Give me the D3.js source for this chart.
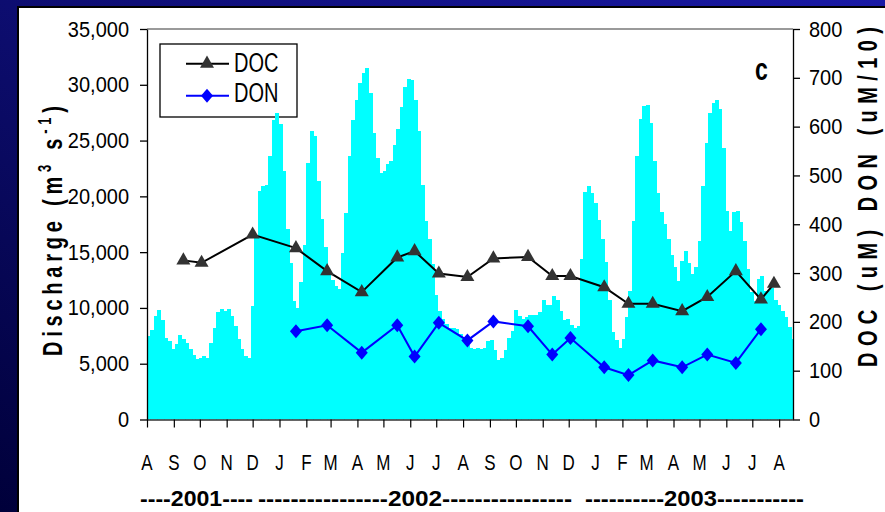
<!DOCTYPE html>
<html>
<head>
<meta charset="utf-8">
<script src="https://d3js.org/d3.v7.min.js"></script>
<style>
  html, body { margin: 0; padding: 0; background: #000050; }
  svg { display: block; font-family: "Liberation Sans", Arial, sans-serif; }
</style>
</head>
<body>
<svg id="chart" width="885" height="512"></svg>
<script>
  // Discharge (m3 s-1), one value every 4 days from 1 Aug 2001
  const dischargeStart = "2001-08-01";
  const dischargeStepDays = 4;
  const discharge = [
    7500, 8000, 9300, 9800, 8900, 7300, 7000, 6300, 6800, 7600,
    7200, 6900, 6300, 5800, 5400, 5500, 5700, 5500, 6900, 8200,
    9600, 9900, 9700, 9900, 9300, 8400, 7200, 6300, 5700, 5500,
    10200, 16500, 20500, 20900, 21000, 23600, 26800, 27500, 26500, 22300,
    17100, 14000, 10600, 10000, 12300, 15600, 23000, 25900, 25400, 21400,
    18000, 15500, 13300, 12500, 12000, 11700, 14900, 18500, 23600, 26800,
    28600, 30200, 31100, 31500, 29300, 25700, 23400, 22100, 22300, 22900,
    23200, 24600, 26000, 28000, 29800, 30500, 30400, 28600, 25900, 21000,
    17800, 16200, 13900, 11200, 9700, 9000, 8600, 8200, 8200, 8100,
    7700, 7200, 6700, 6400, 6300, 6400, 6300, 6400, 7000, 7100,
    6200, 5300, 5500, 6200, 7300, 7900, 9800, 9300, 9000, 9200,
    9400, 9400, 9400, 9600, 10700, 10300, 10300, 11100, 10700, 9700,
    8900, 9000, 8500, 8200, 8400, 14400, 20400, 20900, 20300, 19400,
    17900, 16200, 14100, 10700, 7800, 7100, 6400, 7200, 9200, 11500,
    17800, 23600, 26900, 28100, 28200, 26600, 23200, 20300, 18600, 17500,
    16200, 14700, 13700, 12400, 14200, 15100, 14000, 13000, 13700, 16000,
    20900, 24800, 27500, 28400, 28600, 27800, 24300, 18700, 16900, 18600,
    18700, 17700, 16000, 13500, 11400, 10600, 12600, 12900, 11500, 11500,
    11800, 10700, 10300, 9700, 9200, 8300, 7200
  ];

  // DOC (uM) sampling dates and values
  const docDates = [
    "2001-09-12", "2001-10-03", "2001-12-01", "2002-01-20", "2002-02-25",
    "2002-04-06", "2002-05-17", "2002-06-06", "2002-07-04", "2002-08-06",
    "2002-09-05", "2002-10-15", "2002-11-12", "2002-12-03", "2003-01-11",
    "2003-02-08", "2003-03-08", "2003-04-11", "2003-05-10", "2003-06-12",
    "2003-07-11", "2003-07-26"
  ];
  const docValues = [326, 321, 379, 351, 304, 261, 332, 345, 299, 292,
    330, 333, 294, 294, 271, 237, 237, 222, 251, 304, 246, 278];

  // DON (uM/10)
  const donDates = [
    "2002-01-20", "2002-02-25", "2002-04-06", "2002-05-17", "2002-06-06",
    "2002-07-04", "2002-08-06", "2002-09-05", "2002-10-15", "2002-11-12",
    "2002-12-03", "2003-01-11", "2003-02-08", "2003-03-08", "2003-04-11",
    "2003-05-10", "2003-06-12", "2003-07-11"
  ];
  const donValues = [181, 193, 137, 193, 129, 198, 162, 201, 191, 133,
    167, 107, 91, 121, 107, 133, 116, 185];

  const monthLabels = ["A", "S", "O", "N", "D", "J", "F", "M", "A", "M", "J", "J",
    "A", "S", "O", "N", "D", "J", "F", "M", "A", "M", "J", "J", "A"];
  const leftTicks = [0, 5000, 10000, 15000, 20000, 25000, 30000, 35000];
  const rightTicks = [0, 100, 200, 300, 400, 500, 600, 700, 800];
  const yearLabels = ["----2001----", "----------------2002----------------", "----------2003-----------"];

  const svg = d3.select("#chart");
  const W = 885, H = 512;
  const parse = d3.timeParse("%Y-%m-%d");

  // slide background
  const defs = svg.append("defs");
  const grad = defs.append("linearGradient").attr("id", "bg")
    .attr("x1", 0).attr("y1", 1).attr("x2", 1).attr("y2", 0);
  grad.append("stop").attr("offset", 0).attr("stop-color", "#00003a");
  grad.append("stop").attr("offset", 1).attr("stop-color", "#1a1aa6");
  svg.append("rect").attr("width", W).attr("height", H).attr("fill", "url(#bg)");
  svg.append("rect").attr("x", 18).attr("y", 7).attr("width", W).attr("height", H)
    .attr("fill", "#fff").attr("stroke", "#000").attr("stroke-width", 2);

  const plotL = 147, plotR = 793, plotT = 29, plotB = 419.5;

  const x = d3.scaleTime()
    .domain([parse("2001-08-01"), parse("2003-08-17")])
    .range([plotL, plotR]);
  const yQ = d3.scaleLinear().domain([0, 35000]).range([plotB, plotT]);
  const yC = d3.scaleLinear().domain([0, 800]).range([plotB, plotT]);

  defs.append("clipPath").attr("id", "plot")
    .append("rect").attr("x", plotL).attr("y", plotT)
    .attr("width", plotR - plotL).attr("height", plotB - plotT);

  const triangle = d3.symbol(d3.symbolTriangle, 85)();
  const diamond = "M0,-7L6,0L0,7L-6,0Z";

  // legend (drawn first, the discharge peak sits over it)
  const lg = svg.append("g");
  lg.append("rect").attr("x", 160).attr("y", 44).attr("width", 137).attr("height", 73)
    .attr("fill", "#fff").attr("stroke", "#000").attr("stroke-width", 1.3);
  lg.append("line").attr("x1", 186).attr("x2", 229).attr("y1", 63.7).attr("y2", 63.7)
    .attr("stroke", "#000").attr("stroke-width", 2);
  lg.append("path").attr("d", triangle)
    .attr("transform", "translate(207,63.7)").attr("fill", "#333");
  lg.append("line").attr("x1", 186).attr("x2", 229).attr("y1", 95.7).attr("y2", 95.7)
    .attr("stroke", "#0000ff").attr("stroke-width", 2);
  lg.append("path").attr("d", diamond)
    .attr("transform", "translate(207,95.7)").attr("fill", "#0000ff");
  lg.append("text").text("DOC").attr("transform", "translate(234,71.7) scale(1,1.4)")
    .attr("font-size", 20);
  lg.append("text").text("DON").attr("transform", "translate(234,102) scale(1,1.4)")
    .attr("font-size", 20);

  // discharge columns
  const start = parse(dischargeStart);
  const dayAt = i => d3.timeDay.offset(start, i * dischargeStepDays);
  svg.append("g").attr("clip-path", "url(#plot)")
    .selectAll("rect")
    .data(discharge)
    .join("rect")
    .attr("x", (d, i) => x(dayAt(i)))
    .attr("width", (d, i) => x(dayAt(i + 1)) - x(dayAt(i)) + 0.5)
    .attr("y", d => yQ(d))
    .attr("height", d => yQ(0) - yQ(d))
    .attr("fill", "#00ffff")
    .attr("shape-rendering", "crispEdges");

  // plot area top border
  svg.append("line").attr("x1", plotL).attr("x2", plotR).attr("y1", plotT).attr("y2", plotT)
    .attr("stroke", "#9a9a9a").attr("stroke-width", 2);

  // axes
  const gl = svg.append("g").attr("transform", `translate(${plotL},0)`)
    .call(d3.axisLeft(yQ).tickValues(leftTicks).tickFormat(d3.format(","))
      .tickSize(7).tickSizeOuter(0).tickPadding(11));
  const gr = svg.append("g").attr("transform", `translate(${plotR},0)`)
    .call(d3.axisRight(yC).tickValues(rightTicks)
      .tickSize(7).tickSizeOuter(0).tickPadding(9));
  [gl, gr].forEach(g => {
    g.selectAll("text").attr("font-size", 20).attr("fill", "#000")
      .attr("font-family", "Liberation Sans, Arial, sans-serif")
      .attr("transform", "scale(1,1.1)");
    g.selectAll("line, path").attr("stroke", "#000").attr("stroke-width", 1.3);
  });

  const monthDates = d3.timeMonth.range(parse("2001-08-01"), parse("2003-08-02"));
  const gb = svg.append("g").attr("transform", `translate(0,${plotB})`)
    .call(d3.axisBottom(x).tickValues(monthDates).tickFormat("")
      .tickSize(8).tickSizeOuter(0));
  gb.selectAll("line").attr("stroke", "#000").attr("stroke-width", 1.2);
  gb.select("path").attr("stroke", "#333").attr("stroke-width", 1.3);

  svg.append("g").selectAll("text")
    .data(monthDates)
    .join("text")
    .attr("transform", d => `translate(${x(d)},470) scale(1,1.3)`)
    .attr("text-anchor", "middle")
    .attr("font-size", 17)
    .text((d, i) => monthLabels[i]);

  // DOC / DON series
  const doc = docDates.map((d, i) => ({date: parse(d), v: docValues[i]}));
  const don = donDates.map((d, i) => ({date: parse(d), v: donValues[i]}));
  const line = d3.line().x(d => x(d.date)).y(d => yC(d.v));

  svg.append("path").datum(doc).attr("d", line)
    .attr("fill", "none").attr("stroke", "#000").attr("stroke-width", 2);
  svg.append("path").datum(don).attr("d", line)
    .attr("fill", "none").attr("stroke", "#0000ff").attr("stroke-width", 2);

  svg.append("g").selectAll("path")
    .data(doc)
    .join("path")
    .attr("d", triangle)
    .attr("transform", d => `translate(${x(d.date)},${yC(d.v)})`)
    .attr("fill", "#333");
  svg.append("g").selectAll("path")
    .data(don)
    .join("path")
    .attr("d", diamond)
    .attr("transform", d => `translate(${x(d.date)},${yC(d.v)})`)
    .attr("fill", "#0000ff");

  // panel letter
  svg.append("text").text("c").attr("transform", "translate(755,80) scale(1,1.4)")
    .attr("font-size", 23).attr("font-weight", "bold");

  // axis titles
  const lt = svg.append("text")
    .attr("transform", "translate(62,356) rotate(-90) scale(1,1.4)")
    .attr("font-size", 20).attr("font-weight", "bold")
    .attr("textLength", 250).attr("lengthAdjust", "spacing");
  lt.append("tspan").text("Discharge (m");
  lt.append("tspan").text("3").attr("font-size", 13).attr("dy", -8);
  lt.append("tspan").text(" s").attr("dy", 8);
  lt.append("tspan").text("-1").attr("font-size", 13).attr("dy", -8);
  lt.append("tspan").text(")").attr("dy", 8);

  svg.append("text")
    .attr("transform", "translate(877,197) rotate(-90) scale(1,1.4)")
    .attr("text-anchor", "middle")
    .attr("font-size", 20).attr("font-weight", "bold")
    .attr("textLength", 340).attr("lengthAdjust", "spacing")
    .text("DOC (uM) DON (uM/10)");

  // year bands under the month letters
  const yearPos = [[140, 113], [258, 314], [585, 219]];
  svg.append("g").selectAll("text")
    .data(yearLabels)
    .join("text")
    .attr("transform", (d, i) => `translate(${yearPos[i][0]},506) scale(1,1.15)`)
    .attr("font-size", 19).attr("font-weight", "bold")
    .attr("textLength", (d, i) => yearPos[i][1])
    .attr("lengthAdjust", "spacingAndGlyphs")
    .text(d => d);
</script>
</body>
</html>
